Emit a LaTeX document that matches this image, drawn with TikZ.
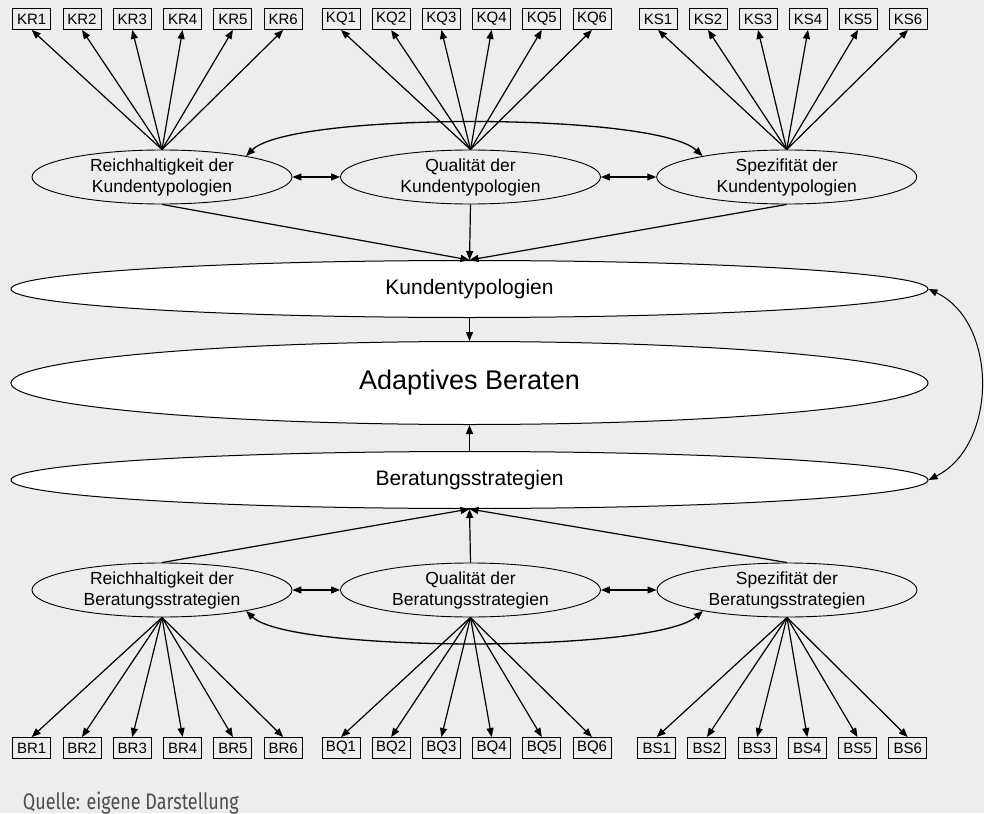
\documentclass[tikz,border=0pt]{standalone}
\usepackage{fontspec}
\setmainfont{Liberation Sans}
\newfontfamily\notefont[FakeStretch=0.8]{Fira Sans}
\usetikzlibrary{arrows.meta,shapes.geometric}
\definecolor{bg}{HTML}{EDEDED}
\definecolor{notegray}{HTML}{4D4D4D}

\begin{document}
\begin{tikzpicture}[x=1pt,y=-1pt,
  ind/.style={draw, line width=0.9pt, minimum width=38pt, minimum height=21pt,
    inner sep=0pt, font=\fontsize{15}{17}\selectfont},
  sub/.style={ellipse, draw, line width=0.9pt, minimum width=260pt,
    minimum height=54pt, inner sep=0pt, align=center,
    font=\fontsize{17.5}{21}\selectfont},
  main/.style={ellipse, draw, fill=white, line width=1pt,
    minimum width=917pt, inner sep=0pt},
  tip/.tip={Triangle[length=9pt,width=7pt]},
  load/.style={-tip, line width=1.2pt},
  effect/.style={-tip, line width=1.2pt},
  cov/.style={tip-tip, line width=1.3pt},
  corr/.style={tip-tip, line width=1.2pt},
]
\useasboundingbox (0,0) rectangle (984,813);
\fill[bg] (0,0) rectangle (984,813);

% latent constructs of the customer-typology side
\node[sub] (kr) at (162,177) {Reichhaltigkeit der\\Kundentypologien};
\node[sub] (kq) at (470.5,177) {Qualität der\\Kundentypologien};
\node[sub] (ks) at (786.7,177) {Spezifität der\\Kundentypologien};

% second-order constructs and the target construct
\node[main, minimum height=57pt, font=\fontsize{21}{25}\selectfont] (kt) at (469.5,289) {Kundentypologien};
\node[main, minimum height=83pt, font=\fontsize{27}{32}\selectfont] (ab) at (469.5,383) {Adaptives Beraten};
\node[main, minimum height=57pt, font=\fontsize{21}{25}\selectfont] (bst) at (469.5,480) {Beratungsstrategien};

% latent constructs of the strategy side
\node[sub] (br) at (162,590) {Reichhaltigkeit der\\Beratungsstrategien};
\node[sub] (bq) at (470.5,590) {Qualität der\\Beratungsstrategien};
\node[sub] (bs) at (787,590) {Spezifität der\\Beratungsstrategien};

% indicators with their loadings
\foreach \i in {1,...,6} {
  \node[ind] (KR\i) at ({31.7+50.3*(\i-1)},19) {KR\i};
  \node[ind] (KQ\i) at ({341+50.2*(\i-1)},19) {KQ\i};
  \node[ind] (KS\i) at ({658+50*(\i-1)},19) {KS\i};
  \node[ind] (BR\i) at ({31.7+50.3*(\i-1)},748) {BR\i};
  \node[ind] (BQ\i) at ({341+50.2*(\i-1)},748) {BQ\i};
  \node[ind] (BS\i) at ({656.7+50.2*(\i-1)},748) {BS\i};
  \draw[load] (kr.north) -- (KR\i.south);
  \draw[load] (kq.north) -- (KQ\i.south);
  \draw[load] (ks.north) -- (KS\i.south);
  \draw[load] (br.south) -- (BR\i.north);
  \draw[load] (bq.south) -- (BQ\i.north);
  \draw[load] (bs.south) -- (BS\i.north);
}

% correlations among first-order constructs
\draw[corr] (kr.east) -- (kq.west);
\draw[corr] (kq.east) -- (ks.west);
\draw[corr] (br.east) -- (bq.west);
\draw[corr] (bq.east) -- (bs.west);
\draw[cov] (kr.14) .. controls (290,112) and (655,112) .. (ks.166);
\draw[cov] (br.-14) .. controls (290,653) and (655,653) .. (bs.194);

% structural paths
\draw[effect] (kr.south) -- (kt.north);
\draw[effect] (kq.south) -- (kt.north);
\draw[effect] (ks.south) -- (kt.north);
\draw[effect] (br.north) -- (bst.south);
\draw[effect] (bq.north) -- (bst.south);
\draw[effect] (bs.north) -- (bst.south);
\draw[effect] (kt.south) -- (ab.north);
\draw[effect] (bst.north) -- (ab.south);
\draw[corr, line width=1pt] (kt.east) .. controls (998,322) and (998,445) .. (bst.east);

% source note
\node[anchor=base west, inner sep=0pt, text=notegray,
  font=\notefont\fontsize{22.5}{26}\selectfont] (src) at (22.7,809) {Quelle: eigene Darstellung};
\end{tikzpicture}
\end{document}
